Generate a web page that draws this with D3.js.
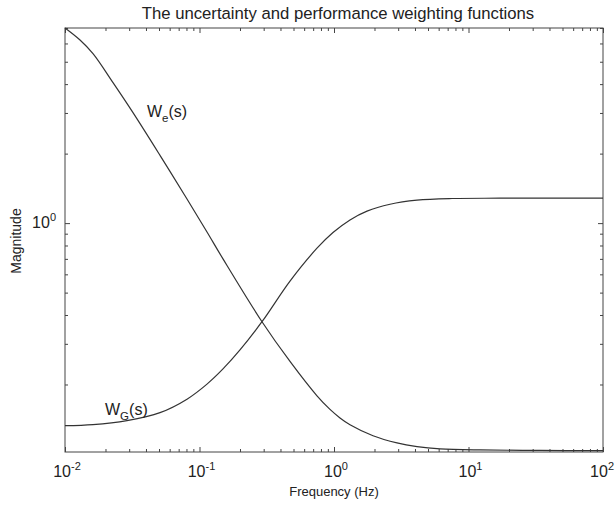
<!DOCTYPE html>
<html><head><meta charset="utf-8">
<script src="https://cdn.jsdelivr.net/npm/d3@7"></script>
<style>
body{margin:0;background:#fff;}
text{font-family:"Liberation Sans",Arial,sans-serif;fill:#222;}
</style>
</head><body>
<svg id="c" width="615" height="508"></svg>
<script>
// ---- data ----
const weFreq = [0.01, 0.01293, 0.01615, 0.02275, 0.03203, 0.05086, 0.08074, 0.1137, 0.1495, 0.2915, 0.4709, 0.7474, 0.9339, 1.108, 1.315, 1.95, 2.94, 4.14, 6.14, 12.2, 34.0, 100];
const weMag  = [7.0, 6.21, 5.42, 4.06, 3.01, 1.966, 1.272, 0.915, 0.70, 0.374, 0.2516, 0.1786, 0.156, 0.1433, 0.1339, 0.120, 0.1117, 0.1077, 0.1053, 0.1041, 0.1036, 0.1034];
const wgFreq = [0.01, 0.01615, 0.0289, 0.05086, 0.08074, 0.1137, 0.1495, 0.2, 0.2915, 0.4709, 0.7474, 0.983, 1.315, 1.76, 2.61, 4.14, 7.54, 17.1, 100];
const wgMag  = [0.1326, 0.134, 0.1396, 0.1511, 0.1728, 0.2008, 0.2336, 0.2823, 0.374, 0.561, 0.7785, 0.9105, 1.0325, 1.127, 1.207, 1.257, 1.278, 1.282, 1.283];
const xMajorTicks = [0.01, 0.1, 1, 10, 100];
const xTickExponents = ["-2", "-1", "0", "1", "2"];
const yMajorTicks = [1];
const yTickExponents = ["0"];
const xDomain = [0.01, 100];
const yDomain = [0.102, 7];
const titleText = "The uncertainty and performance weighting functions";
const xLabelText = "Frequency (Hz)";
const yLabelText = "Magnitude";

// ---- layout ----
const L = 65, R = 603, T = 28, B = 452;
const svg = d3.select("#c");
const x = d3.scaleLog().domain(xDomain).range([L, R]);
const y = d3.scaleLog().domain(yDomain).range([B, T]);

const axisColor = "#444";
const minorX = x.ticks().filter(v => !xMajorTicks.some(m => Math.abs(m - v) / m < 1e-9));
const minorY = y.ticks().filter(v => !yMajorTicks.some(m => Math.abs(m - v) / m < 1e-9) && v >= yDomain[0] && v <= yDomain[1]);

function styleAxis(g) {
  g.select(".domain").remove();
  g.selectAll("line").attr("stroke", axisColor).attr("stroke-width", 1);
  g.selectAll("text").remove();
}
// minor + major ticks on all four sides, pointing inward
svg.append("g").attr("transform", `translate(0,${B})`).call(d3.axisBottom(x).tickValues(minorX).tickSize(-3).tickFormat("")).call(styleAxis);
svg.append("g").attr("transform", `translate(0,${B})`).call(d3.axisBottom(x).tickValues(xMajorTicks).tickSize(-5).tickFormat("")).call(styleAxis);
svg.append("g").attr("transform", `translate(0,${T})`).call(d3.axisTop(x).tickValues(minorX).tickSize(-3).tickFormat("")).call(styleAxis);
svg.append("g").attr("transform", `translate(0,${T})`).call(d3.axisTop(x).tickValues(xMajorTicks).tickSize(-5).tickFormat("")).call(styleAxis);
svg.append("g").attr("transform", `translate(${L},0)`).call(d3.axisLeft(y).tickValues(minorY).tickSize(-3).tickFormat("")).call(styleAxis);
svg.append("g").attr("transform", `translate(${L},0)`).call(d3.axisLeft(y).tickValues(yMajorTicks).tickSize(-5).tickFormat("")).call(styleAxis);
svg.append("g").attr("transform", `translate(${R},0)`).call(d3.axisRight(y).tickValues(minorY).tickSize(-3).tickFormat("")).call(styleAxis);
svg.append("g").attr("transform", `translate(${R},0)`).call(d3.axisRight(y).tickValues(yMajorTicks).tickSize(-5).tickFormat("")).call(styleAxis);

// box
svg.append("rect").attr("x", L).attr("y", T).attr("width", R - L).attr("height", B - T)
  .attr("fill", "none").attr("stroke", axisColor).attr("stroke-width", 1);

// x tick labels (10^n)
xMajorTicks.forEach((v, i) => {
  const last = i === xMajorTicks.length - 1;
  const t = svg.append("text").attr("x", last ? 614 : x(v) + 2).attr("y", B + 25)
    .attr("text-anchor", last ? "end" : "middle").attr("font-size", 16);
  t.append("tspan").text("10");
  t.append("tspan").attr("dy", -7).attr("font-size", 11).text(xTickExponents[i]);
});
// y tick labels
yMajorTicks.forEach((v, i) => {
  const t = svg.append("text").attr("x", L - 9).attr("y", y(v) + 5)
    .attr("text-anchor", "end").attr("font-size", 16);
  t.append("tspan").text("10");
  t.append("tspan").attr("dy", -7).attr("font-size", 11).text(yTickExponents[i]);
});

// curves
const line = d3.line().x(d => x(d[0])).y(d => y(d[1])).curve(d3.curveCatmullRom.alpha(0.5));
svg.append("path").datum(d3.zip(weFreq, weMag)).attr("d", line)
  .attr("fill", "none").attr("stroke", "#333").attr("stroke-width", 1.2);
svg.append("path").datum(d3.zip(wgFreq, wgMag)).attr("d", line)
  .attr("fill", "none").attr("stroke", "#333").attr("stroke-width", 1.2);

// curve labels
function curveLabel(px, py, sub) {
  const t = svg.append("text").attr("x", px).attr("y", py).attr("font-size", 16);
  t.append("tspan").text("W");
  t.append("tspan").attr("dy", 5).attr("font-size", 11.5).text(sub);
  t.append("tspan").attr("dy", -5).text("(s)");
}
curveLabel(147, 117, "e");
curveLabel(105, 415, "G");

// title and axis labels
svg.append("text").attr("x", 338).attr("y", 18.5).attr("text-anchor", "middle")
  .attr("font-size", 16.7).text(titleText);
svg.append("text").attr("x", (L + R) / 2).attr("y", 496).attr("text-anchor", "middle")
  .attr("font-size", 13).text(xLabelText);
svg.append("text").attr("transform", `translate(21,${(T + B) / 2 + 1}) rotate(-90)`)
  .attr("text-anchor", "middle").attr("font-size", 14).text(yLabelText);
</script>
</body></html>
